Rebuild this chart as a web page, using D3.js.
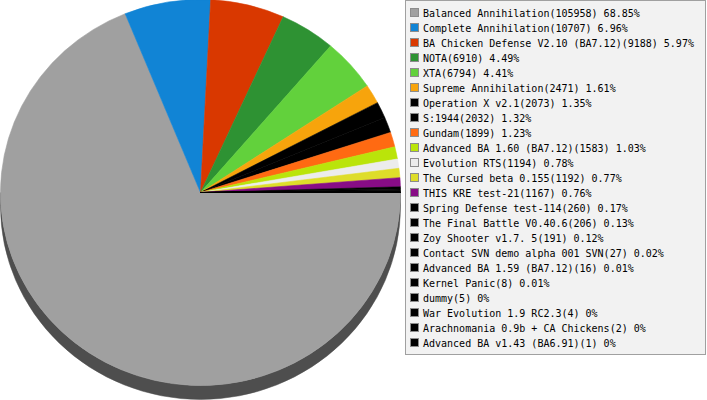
<!DOCTYPE html>
<html>
<head>
<meta charset="utf-8">
<script src="https://cdn.jsdelivr.net/npm/d3@7"></script>
<style>
  body { margin: 0; background: #fff; }
  svg { display: block; }
  text { font-family: "DejaVu Sans Mono", monospace; font-size: 10px; fill: #000; }
</style>
</head>
<body>
<svg id="chart"></svg>
<script>
// mod names and how many games were played with each
let names = [
	'Balanced Annihilation', 'Complete Annihilation', 'BA Chicken Defense V2.10 (BA7.12)', 'NOTA', 'XTA',
	'Supreme Annihilation', 'Operation X v2.1', 'S:1944', 'Gundam', 'Advanced BA 1.60 (BA7.12)',
	'Evolution RTS', 'The Cursed beta 0.155', 'THIS KRE test-21', 'Spring Defense test-114',
	'The Final Battle V0.40.6', 'Zoy Shooter v1.7. 5', 'Contact SVN demo alpha 001 SVN',
	'Advanced BA 1.59 (BA7.12)', 'Kernel Panic', 'dummy', 'War Evolution 1.9 RC2.3',
	'Arachnomania 0.9b + CA Chickens', 'Advanced BA v1.43 (BA6.91)'
];
let games = [105958, 10707, 9188, 6910, 6794, 2471, 2073, 2032, 1899, 1583, 1194, 1192, 1167, 260, 206, 191, 27, 16, 8, 5, 4, 2, 1];
let colors = [
	'#a0a0a0', '#1184d5', '#d93800', '#2e9233', '#62d13c', '#f7a40c', '#000000', '#000000', '#ff6a12',
	'#bae40a', '#ececec', '#dedd2a', '#880c86', '#000000', '#000000', '#000000', '#000000', '#000000',
	'#000000', '#000000', '#000000', '#000000', '#000000'
];
let sideColor = '#4e4e4e';

let width = 707;
let height = 400;

let cx = 200.5, cy = 192.5; // centre of the pie top
let rx = 200, ry = 193; // radii of the (slightly squashed) pie
let depth = 14; // thickness of the pie

let svg = d3.select('#chart').attr('width', width).attr('height', height);

let total = d3.sum(games);
let data = names.map((n, i) => ({ name: n, value: games[i], color: colors[i] }));

// start at 3 o'clock, go clockwise
let pie = d3.pie().sort(null).value((d) => d.value).startAngle(Math.PI / 2).endAngle(Math.PI / 2 + 2 * Math.PI);
let slices = pie(data);

// point on the ellipse, angle in d3 convention (clockwise from 12 o'clock)
function pt(a, dy) {
	return [cx + rx * Math.sin(a), cy - ry * Math.cos(a) + (dy || 0)];
}

// the side of the pie, only the front half (between 3 and 9 o'clock) can be seen
let sides = svg.append('g');
slices.forEach((s) => {
	let a0 = Math.max(s.startAngle, Math.PI / 2);
	let a1 = Math.min(s.endAngle, 3 * Math.PI / 2);
	if (a1 <= a0) return;
	let p0 = pt(a0), p1 = pt(a1), q1 = pt(a1, depth), q0 = pt(a0, depth);
	let large = a1 - a0 > Math.PI ? 1 : 0;
	let d = 'M' + p0 + 'A' + rx + ',' + ry + ' 0 ' + large + ' 1 ' + p1 +
		'L' + q1 + 'A' + rx + ',' + ry + ' 0 ' + large + ' 0 ' + q0 + 'Z';
	sides.append('path').attr('d', d).attr('fill', sideColor).attr('stroke', sideColor).attr('stroke-width', 0.5);
});

// the top of the pie (thin stroke in the slice colour hides the seams)
let arc = d3.arc().innerRadius(0).outerRadius(rx);
svg.append('g')
	.attr('transform', 'translate(' + cx + ',' + cy + ') scale(1,' + (ry / rx) + ')')
	.selectAll('path')
	.data(slices)
	.enter()
	.append('path')
	.attr('d', arc)
	.attr('fill', (d) => d.data.color)
	.attr('stroke', (d) => d.data.color)
	.attr('stroke-width', 0.6)
	.attr('stroke-linejoin', 'round');

// legend box
let lx = 405.5, ly = 0.5, rowH = 15;
let legend = svg.append('g');
legend.append('rect')
	.attr('x', lx).attr('y', ly)
	.attr('width', 300).attr('height', 354)
	.attr('fill', '#f2f2f2')
	.attr('stroke', '#a0a0a0');

let rows = legend.selectAll('.row').data(data).enter().append('g').classed('row', true)
	.attr('transform', (d, i) => 'translate(0,' + (i * rowH) + ')');

rows.append('rect')
	.attr('x', 410.5).attr('y', 8.5)
	.attr('width', 8).attr('height', 8)
	.attr('fill', (d) => d.color)
	.attr('stroke', '#8c8c8c');

rows.append('text')
	.attr('x', 423).attr('y', 16.5)
	.text((d) => d.name + '(' + d.value + ') ' + (Math.round(d.value / total * 10000) / 100) + '%');
</script>
</body>
</html>
